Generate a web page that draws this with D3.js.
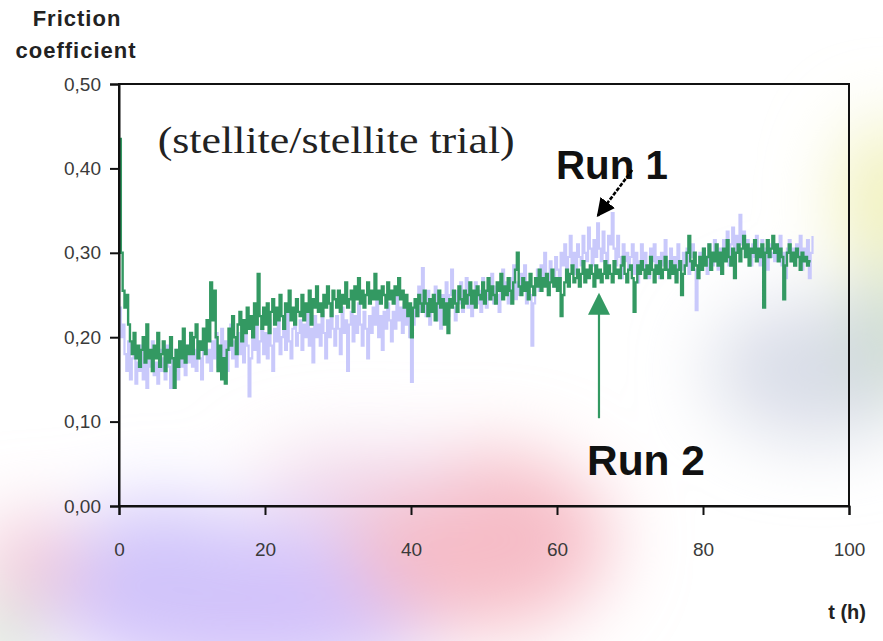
<!DOCTYPE html>
<head>
  <meta charset="utf-8">
  <title>Friction coefficient</title>
  <script src="https://d3js.org/d3.v7.min.js"></script>
  <style>
    body { margin: 0; background: #fff; }
    .tick text { font-family: "Liberation Sans", Arial, sans-serif; fill: #3a3a3a; }
  </style>
</head>
<body>
  <div id="root"></div>
  <script>
    // time step of the logger (h)
    var step = 0.25;

    // Run 1 (light lavender), one value every 0.25 h from t = 0 (10 values = 2.5 h per row)
    var run1 = [
      0.235, 0.200, 0.215, 0.180, 0.160, 0.195, 0.150, 0.175, 0.185, 0.145,
      0.170, 0.160, 0.190, 0.150, 0.175, 0.140, 0.180, 0.165, 0.195, 0.155,
      0.170, 0.145, 0.185, 0.160, 0.175, 0.150, 0.190, 0.165, 0.140, 0.175,
      0.160, 0.185, 0.150, 0.195, 0.165, 0.180, 0.155, 0.190, 0.170, 0.200,
      0.165, 0.185, 0.160, 0.195, 0.175, 0.150, 0.190, 0.205, 0.170, 0.185,
      0.160, 0.195, 0.175, 0.205, 0.165, 0.185, 0.210, 0.170, 0.195, 0.160,
      0.185, 0.215, 0.175, 0.195, 0.165, 0.205, 0.180, 0.200, 0.170, 0.210,
      0.190, 0.130, 0.175, 0.205, 0.185, 0.220, 0.170, 0.195, 0.210, 0.180,
      0.205, 0.175, 0.220, 0.190, 0.160, 0.210, 0.195, 0.225, 0.180, 0.200,
      0.215, 0.185, 0.230, 0.195, 0.175, 0.210, 0.225, 0.190, 0.205, 0.220,
      0.185, 0.215, 0.200, 0.235, 0.190, 0.210, 0.170, 0.225, 0.200, 0.215,
      0.190, 0.230, 0.205, 0.175, 0.220, 0.200, 0.240, 0.210, 0.190, 0.225,
      0.210, 0.180, 0.235, 0.205, 0.220, 0.160, 0.215, 0.230, 0.195, 0.225,
      0.205, 0.240, 0.215, 0.190, 0.230, 0.210, 0.175, 0.225, 0.205, 0.235,
      0.215, 0.245, 0.200, 0.225, 0.185, 0.230, 0.210, 0.240, 0.220, 0.195,
      0.230, 0.210, 0.250, 0.220, 0.235, 0.205, 0.240, 0.215, 0.225, 0.200,
      0.147, 0.215, 0.240, 0.225, 0.260, 0.230, 0.282, 0.240, 0.225, 0.255,
      0.215, 0.245, 0.230, 0.260, 0.220, 0.240, 0.210, 0.250, 0.235, 0.265,
      0.225, 0.250, 0.280, 0.235, 0.220, 0.255, 0.240, 0.265, 0.230, 0.250,
      0.270, 0.235, 0.255, 0.225, 0.245, 0.265, 0.240, 0.255, 0.230, 0.270,
      0.250, 0.235, 0.265, 0.245, 0.275, 0.240, 0.260, 0.250, 0.230, 0.265,
      0.280, 0.250, 0.265, 0.240, 0.270, 0.255, 0.285, 0.245, 0.265, 0.250,
      0.275, 0.255, 0.285, 0.240, 0.265, 0.250, 0.190, 0.240, 0.270, 0.280,
      0.255, 0.285, 0.265, 0.300, 0.270, 0.255, 0.290, 0.275, 0.260, 0.295,
      0.280, 0.265, 0.300, 0.285, 0.310, 0.270, 0.295, 0.320, 0.285, 0.300,
      0.275, 0.310, 0.295, 0.285, 0.320, 0.300, 0.290, 0.330, 0.305, 0.285,
      0.315, 0.295, 0.335, 0.305, 0.290, 0.325, 0.300, 0.280, 0.320, 0.310,
      0.347, 0.305, 0.285, 0.320, 0.295, 0.270, 0.310, 0.290, 0.300, 0.280,
      0.295, 0.310, 0.275, 0.300, 0.265, 0.290, 0.310, 0.280, 0.300, 0.285,
      0.270, 0.305, 0.290, 0.310, 0.280, 0.295, 0.270, 0.300, 0.285, 0.315,
      0.290, 0.275, 0.305, 0.285, 0.295, 0.270, 0.310, 0.290, 0.280, 0.300,
      0.285, 0.305, 0.275, 0.295, 0.310, 0.280, 0.232, 0.270, 0.300, 0.285,
      0.305, 0.290, 0.275, 0.310, 0.295, 0.285, 0.315, 0.300, 0.280, 0.305,
      0.290, 0.315, 0.300, 0.325, 0.285, 0.310, 0.330, 0.300, 0.320, 0.305,
      0.345, 0.310, 0.325, 0.295, 0.315, 0.300, 0.285, 0.310, 0.295, 0.320,
      0.300, 0.285, 0.315, 0.295, 0.305, 0.280, 0.310, 0.295, 0.300, 0.290,
      0.310, 0.295, 0.320, 0.285, 0.300, 0.270, 0.305, 0.315, 0.290, 0.305,
      0.285, 0.310, 0.295, 0.320, 0.280, 0.305, 0.290, 0.315, 0.270, 0.300,
      0.320
    ];

    // Run 2 (green)
    var run2 = [
      0.435, 0.300, 0.255, 0.235, 0.250, 0.215, 0.195, 0.180, 0.205, 0.175,
      0.190, 0.165, 0.185, 0.200, 0.170, 0.215, 0.175, 0.185, 0.160, 0.190,
      0.175, 0.205, 0.165, 0.180, 0.195, 0.160, 0.185, 0.170, 0.200, 0.175,
      0.140, 0.185, 0.165, 0.195, 0.175, 0.210, 0.170, 0.190, 0.180, 0.205,
      0.180, 0.200, 0.215, 0.175, 0.195, 0.185, 0.210, 0.180, 0.220, 0.195,
      0.265, 0.220, 0.255, 0.200, 0.160, 0.190, 0.150, 0.175, 0.145, 0.185,
      0.210, 0.190, 0.225, 0.200, 0.180, 0.215, 0.230, 0.195, 0.220, 0.205,
      0.235, 0.210, 0.225, 0.200, 0.240, 0.215, 0.275, 0.225, 0.210, 0.235,
      0.215, 0.240, 0.205, 0.230, 0.245, 0.215, 0.235, 0.220, 0.250, 0.225,
      0.210, 0.240, 0.230, 0.255, 0.220, 0.235, 0.215, 0.245, 0.230, 0.225,
      0.250, 0.220, 0.240, 0.230, 0.255, 0.215, 0.245, 0.235, 0.260, 0.230,
      0.240, 0.225, 0.250, 0.235, 0.260, 0.240, 0.225, 0.255, 0.245, 0.235,
      0.255, 0.230, 0.250, 0.240, 0.265, 0.235, 0.245, 0.255, 0.230, 0.260,
      0.245, 0.270, 0.240, 0.255, 0.235, 0.250, 0.265, 0.240, 0.255, 0.245,
      0.275, 0.245, 0.255, 0.240, 0.260, 0.250, 0.235, 0.265, 0.245, 0.255,
      0.240, 0.260, 0.250, 0.270, 0.245, 0.255, 0.235, 0.250, 0.225, 0.240,
      0.200, 0.235, 0.245, 0.225, 0.250, 0.240, 0.230, 0.255, 0.240, 0.225,
      0.245, 0.230, 0.250, 0.220, 0.240, 0.255, 0.235, 0.245, 0.215, 0.240,
      0.205, 0.245, 0.235, 0.255, 0.240, 0.230, 0.260, 0.245, 0.235, 0.255,
      0.240, 0.250, 0.265, 0.240, 0.255, 0.235, 0.260, 0.250, 0.245, 0.265,
      0.240, 0.255, 0.270, 0.245, 0.260, 0.250, 0.240, 0.265, 0.255, 0.275,
      0.245, 0.260, 0.250, 0.270, 0.255, 0.240, 0.265, 0.280, 0.300, 0.260,
      0.250, 0.270, 0.255, 0.265, 0.245, 0.275, 0.260, 0.250, 0.270, 0.260,
      0.280, 0.255, 0.270, 0.260, 0.275, 0.250, 0.265, 0.280, 0.260, 0.270,
      0.255, 0.270, 0.225, 0.250, 0.265, 0.280, 0.260, 0.275, 0.285, 0.265,
      0.270, 0.280, 0.260, 0.275, 0.290, 0.265, 0.280, 0.270, 0.285, 0.275,
      0.260, 0.285, 0.270, 0.280, 0.265, 0.275, 0.290, 0.270, 0.285, 0.275,
      0.265, 0.290, 0.275, 0.280, 0.270, 0.285, 0.295, 0.275, 0.265, 0.280,
      0.285, 0.270, 0.230, 0.265, 0.285, 0.275, 0.290, 0.280, 0.270, 0.285,
      0.275, 0.295, 0.280, 0.265, 0.285, 0.275, 0.290, 0.270, 0.280, 0.295,
      0.280, 0.270, 0.290, 0.275, 0.285, 0.265, 0.280, 0.290, 0.250, 0.275,
      0.285, 0.300, 0.320, 0.290, 0.280, 0.300, 0.285, 0.270, 0.295, 0.280,
      0.305, 0.285, 0.295, 0.310, 0.280, 0.300, 0.290, 0.310, 0.285, 0.300,
      0.275, 0.305, 0.290, 0.315, 0.295, 0.285, 0.305, 0.270, 0.300, 0.310,
      0.290, 0.305, 0.320, 0.295, 0.310, 0.285, 0.305, 0.300, 0.315, 0.290,
      0.305, 0.295, 0.310, 0.235, 0.300, 0.315, 0.295, 0.305, 0.320, 0.300,
      0.310, 0.290, 0.305, 0.295, 0.245, 0.285, 0.300, 0.310, 0.290, 0.300,
      0.285, 0.305, 0.295, 0.280, 0.300, 0.290, 0.295, 0.285, 0.290, 0.290
    ];

    var xTicks = [0, 20, 40, 60, 80, 100];
    var yTicks = [0, 0.1, 0.2, 0.3, 0.4, 0.5];

    var width = 883, height = 641;
    var margin = {top: 84, right: 34, bottom: 135, left: 119};

    var svg = d3.select("#root").append("svg")
      .attr("width", width)
      .attr("height", height);

    // ---- blurry pastel backdrop ----
    var defs = svg.append("defs");
    defs.append("filter")
      .attr("id", "blur")
      .attr("x", "-50%").attr("y", "-50%")
      .attr("width", "200%").attr("height", "200%")
      .append("feGaussianBlur")
      .attr("stdDeviation", 38);

    var blobs = [
      {cx: 250, cy: 600, rx: 210, ry: 80, c: "#d3c2fa"},
      {cx: 160, cy: 560, rx: 90, ry: 60, c: "#d0c4fa"},
      {cx: 480, cy: 540, rx: 130, ry: 90, c: "#f6bcc6"},
      {cx: 360, cy: 480, rx: 110, ry: 30, c: "#efd2e6"},
      {cx: 30, cy: 560, rx: 50, ry: 45, c: "#f2c6d6"},
      {cx: 0, cy: 640, rx: 30, ry: 40, c: "#c6dcc6"},
      {cx: 890, cy: 200, rx: 50, ry: 80, c: "#f0f0b8"},
      {cx: 820, cy: 370, rx: 110, ry: 70, c: "#d9dde8"},
      {cx: 895, cy: 330, rx: 35, ry: 70, c: "#c4d8c4"}
    ];
    svg.append("g")
      .attr("filter", "url(#blur)")
      .selectAll("ellipse")
      .data(blobs)
      .enter()
      .append("ellipse")
        .attr("cx", function(d) { return d.cx; })
        .attr("cy", function(d) { return d.cy; })
        .attr("rx", function(d) { return d.rx; })
        .attr("ry", function(d) { return d.ry; })
        .style("fill", function(d) { return d.c; });

    // ---- scales ----
    var x = d3.scaleLinear()
      .domain([0, 100])
      .range([margin.left, width - margin.right]);
    var y = d3.scaleLinear()
      .domain([0, 0.5])
      .range([height - margin.bottom, margin.top]);

    var line = d3.line()
      .x(function(d, i) { return x(i * step); })
      .y(function(d) { return y(d); })
      .curve(d3.curveStepAfter);

    // Run 1 behind, Run 2 on top
    svg.append("path")
      .datum(run1)
      .attr("d", line)
      .style("fill", "none")
      .style("stroke", "#c9c9fb")
      .style("stroke-width", 2.2);

    svg.append("path")
      .datum(run2)
      .attr("d", line)
      .style("fill", "none")
      .style("stroke", "#339962")
      .style("stroke-width", 2.4);

    // ---- frame and axes ----
    svg.append("rect")
      .attr("x", x(0)).attr("y", y(0.5))
      .attr("width", x(100) - x(0)).attr("height", y(0) - y(0.5))
      .style("fill", "none")
      .style("stroke", "#111")
      .style("stroke-width", 2);

    var commaFmt = function(d) { return d3.format(".2f")(d).replace(".", ","); };

    var yAxis = svg.append("g")
      .attr("transform", "translate(" + x(0) + ",0)")
      .call(d3.axisLeft(y).tickValues(yTicks).tickFormat(commaFmt).tickSize(9).tickPadding(9));
    var xAxis = svg.append("g")
      .attr("transform", "translate(0," + y(0) + ")")
      .call(d3.axisBottom(x).tickValues(xTicks).tickFormat(d3.format("d")).tickSize(9).tickPadding(28));

    [xAxis, yAxis].forEach(function(a) {
      a.select(".domain").style("stroke", "#111").style("stroke-width", 2);
      a.selectAll(".tick line").style("stroke", "#111").style("stroke-width", 2);
      a.selectAll(".tick text").style("font-size", "19px");
    });

    // ---- axis titles ----
    var bold = "'Liberation Sans', Arial, sans-serif";
    svg.append("text")
      .attr("x", 77).attr("y", 26)
      .attr("text-anchor", "middle")
      .style("font-family", bold).style("font-weight", "bold").style("font-size", "22px")
      .style("letter-spacing", "1px")
      .style("fill", "#222")
      .text("Friction");
    svg.append("text")
      .attr("x", 76).attr("y", 58)
      .attr("text-anchor", "middle")
      .style("font-family", bold).style("font-weight", "bold").style("font-size", "22px")
      .style("letter-spacing", "1px")
      .style("fill", "#222")
      .text("coefficient");
    svg.append("text")
      .attr("x", 866).attr("y", 619)
      .attr("text-anchor", "end")
      .style("font-family", bold).style("font-weight", "bold").style("font-size", "20px")
      .style("fill", "#222")
      .text("t (h)");

    // ---- annotations ----
    svg.append("text")
      .attr("x", x(5.3)).attr("y", y(0.418))
      .attr("textLength", 357)
      .attr("lengthAdjust", "spacingAndGlyphs")
      .style("font-family", "'Liberation Serif', 'Times New Roman', serif")
      .style("font-size", "37px")
      .style("fill", "#222")
      .text("(stellite/stellite trial)");

    svg.append("text")
      .attr("x", 556).attr("y", y(0.387))
      .attr("textLength", 112)
      .attr("lengthAdjust", "spacingAndGlyphs")
      .style("font-family", bold).style("font-weight", "bold").style("font-size", "41px")
      .style("fill", "#111")
      .text("Run 1");

    svg.append("text")
      .attr("x", 587).attr("y", y(0.037))
      .attr("textLength", 118)
      .attr("lengthAdjust", "spacingAndGlyphs")
      .style("font-family", bold).style("font-weight", "bold").style("font-size", "42px")
      .style("fill", "#111")
      .text("Run 2");

    defs.append("marker")
      .attr("id", "headBlack")
      .attr("viewBox", "0 0 10 10")
      .attr("refX", 9).attr("refY", 5)
      .attr("markerWidth", 7).attr("markerHeight", 7)
      .attr("markerUnits", "strokeWidth")
      .attr("orient", "auto")
      .append("path").attr("d", "M0,0 L10,5 L0,10 Z").style("fill", "#000");
    defs.append("marker")
      .attr("id", "headGreen")
      .attr("viewBox", "0 0 10 10")
      .attr("refX", 9).attr("refY", 5)
      .attr("markerWidth", 11).attr("markerHeight", 10)
      .attr("markerUnits", "strokeWidth")
      .attr("orient", "auto")
      .append("path").attr("d", "M0,0 L10,5 L0,10 Z").style("fill", "#339962");

    svg.append("line")
      .attr("x1", x(70.3)).attr("y1", y(0.398))
      .attr("x2", x(65.6)).attr("y2", y(0.344))
      .style("stroke", "#000").style("stroke-width", 2.6)
      .style("stroke-dasharray", "4,1.5")
      .attr("marker-end", "url(#headBlack)");

    svg.append("line")
      .attr("x1", x(65.75)).attr("y1", y(0.104))
      .attr("x2", x(65.75)).attr("y2", y(0.25))
      .style("stroke", "#339962").style("stroke-width", 2.2)
      .attr("marker-end", "url(#headGreen)");
  </script>
</body>
